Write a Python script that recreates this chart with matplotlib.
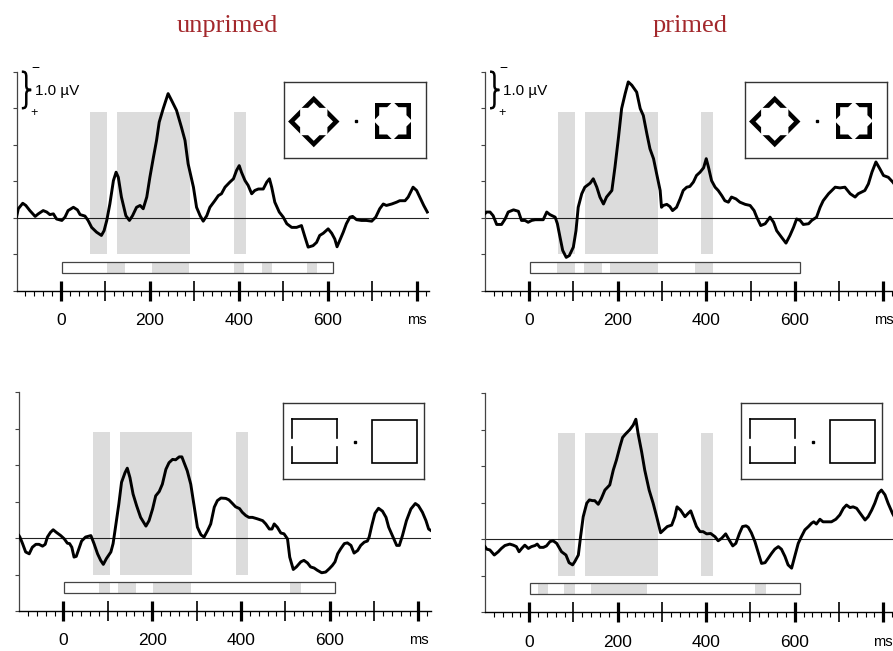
import matplotlib
matplotlib.use("Agg")
import matplotlib.pyplot as plt
import numpy as np
from matplotlib.patches import Rectangle, Polygon, PathPatch
from matplotlib.path import Path

plt.rcParams['font.family'] = 'Liberation Sans'

# ERP traces: time in ms, amplitude in microvolts (negative plotted up)
tl_t = [-100, -96, -86, -79, -70, -58, -51, -40, -32, -25, -17, -10, 2, 9, 16, 28, 37, 43, 54, 61,
        69, 80, 91, 97, 103, 110, 118, 124, 129, 136, 146, 154, 161, 170, 178, 185, 193, 200, 208, 215,
        221, 230, 241, 249, 260, 271, 279, 286, 298, 305, 313, 320, 328, 335, 346, 354, 361, 369, 380, 388,
        395, 401, 406, 414, 421, 429, 436, 444, 455, 463, 469, 474, 481, 491, 500, 508, 519, 530, 541, 549,
        556, 567, 575, 582, 590, 601, 609, 616, 621, 627, 635, 642, 650, 656, 665, 676, 687, 699, 708, 717,
        725, 732, 744, 755, 762, 774, 781, 792, 800, 809, 816, 824]
tl_v = [-0.02, -0.25, -0.40, -0.34, -0.20, -0.04, -0.11, -0.20, -0.16, -0.09, -0.11, 0.03, 0.07, -0.02, -0.20, -0.29, -0.22, -0.09, -0.05, 0.07,
        0.26, 0.39, 0.48, 0.35, 0.07, -0.38, -1.02, -1.25, -1.11, -0.57, -0.06, 0.07, -0.06, -0.29, -0.34, -0.25, -0.57, -1.11, -1.66, -2.12,
        -2.62, -2.99, -3.40, -3.21, -2.94, -2.48, -2.12, -1.48, -0.84, -0.29, -0.06, 0.09, -0.06, -0.29, -0.47, -0.61, -0.66, -0.84, -0.98, -1.07,
        -1.30, -1.43, -1.25, -1.02, -0.89, -0.66, -0.75, -0.79, -0.79, -0.98, -1.07, -0.84, -0.43, -0.16, -0.02, 0.16, 0.26, 0.26, 0.21, 0.53,
        0.80, 0.76, 0.67, 0.48, 0.42, 0.30, 0.42, 0.58, 0.79, 0.62, 0.39, 0.16, -0.02, -0.04, 0.05, 0.07, 0.07, 0.09, -0.02, -0.25,
        -0.38, -0.34, -0.38, -0.43, -0.47, -0.47, -0.57, -0.84, -0.75, -0.52, -0.34, -0.16]

tr_t = [-100, -96, -88, -81, -73, -62, -54, -47, -35, -24, -17, -9, -2, 6, 14, 25, 32, 40, 47, 59,
        64, 70, 76, 84, 91, 100, 106, 111, 119, 126, 138, 145, 153, 160, 168, 175, 187, 194, 202, 209,
        217, 224, 232, 243, 251, 258, 266, 273, 281, 288, 296, 299, 303, 311, 318, 324, 333, 341, 348, 356,
        363, 371, 378, 386, 394, 400, 405, 412, 420, 427, 435, 442, 450, 457, 467, 476, 488, 499, 508, 514,
        523, 533, 544, 552, 559, 570, 580, 589, 597, 604, 612, 619, 631, 638, 649, 657, 664, 676, 691, 702,
        713, 725, 736, 743, 758, 766, 774, 783, 792, 800, 811, 821, 826]
tr_v = [-0.11, -0.16, -0.16, -0.06, 0.18, 0.18, 0.03, -0.16, -0.22, -0.18, 0.07, 0.07, 0.12, 0.07, 0.05, 0.05, 0.05, -0.16, -0.09, -0.02,
        0.16, 0.53, 0.89, 1.08, 1.03, 0.80, 0.35, -0.29, -0.66, -0.84, -0.95, -1.07, -0.84, -0.57, -0.38, -0.57, -0.75, -1.39, -2.21, -2.99,
        -3.40, -3.72, -3.63, -3.44, -2.99, -2.80, -2.30, -1.89, -1.62, -1.21, -0.75, -0.29, -0.34, -0.37, -0.31, -0.20, -0.29, -0.52, -0.75, -0.84,
        -0.86, -0.98, -1.16, -1.25, -1.37, -1.62, -1.39, -1.02, -0.84, -0.75, -0.61, -0.47, -0.43, -0.57, -0.52, -0.43, -0.37, -0.34, -0.20, -0.02,
        0.21, 0.16, -0.02, 0.12, 0.35, 0.53, 0.69, 0.48, 0.26, 0.03, 0.07, 0.18, 0.16, 0.07, -0.02, -0.29, -0.47, -0.66, -0.84, -0.82,
        -0.84, -0.66, -0.57, -0.66, -0.75, -0.93, -1.25, -1.53, -1.34, -1.16, -1.11, -0.98, -0.90]

bl_t = [-100, -98, -92, -85, -77, -70, -62, -55, -47, -41, -36, -29, -23, -16, -6, 2, 9, 14, 19, 24,
        29, 35, 41, 50, 62, 69, 77, 84, 90, 97, 107, 112, 118, 125, 131, 139, 144, 150, 157, 165,
        174, 186, 193, 201, 208, 216, 223, 231, 238, 246, 253, 261, 267, 272, 279, 287, 295, 302, 310, 317,
        325, 332, 340, 347, 355, 366, 373, 381, 388, 397, 403, 411, 418, 426, 437, 449, 456, 464, 470, 475,
        482, 490, 497, 505, 510, 518, 525, 535, 542, 550, 557, 565, 572, 582, 591, 599, 606, 612, 618, 625,
        633, 640, 648, 655, 663, 670, 678, 685, 689, 695, 702, 710, 719, 727, 733, 742, 751, 757, 764, 773,
        783, 793, 800, 809, 817, 823, 828]
bl_v = [-0.07, -0.03, 0.15, 0.38, 0.43, 0.25, 0.17, 0.17, 0.22, 0.17, -0.03, -0.16, -0.23, -0.16, -0.07, 0.02, 0.14, 0.15, 0.25, 0.52,
        0.50, 0.29, 0.08, -0.03, -0.07, 0.15, 0.43, 0.61, 0.72, 0.56, 0.38, 0.15, -0.35, -0.94, -1.53, -1.80, -1.92, -1.66, -1.21, -0.89,
        -0.57, -0.33, -0.48, -0.80, -1.16, -1.28, -1.48, -1.89, -2.07, -2.16, -2.15, -2.23, -2.23, -2.07, -1.85, -1.48, -0.85, -0.30, -0.09, -0.03,
        -0.21, -0.39, -0.85, -1.03, -1.10, -1.09, -1.05, -0.95, -0.86, -0.81, -0.71, -0.62, -0.57, -0.57, -0.53, -0.48, -0.39, -0.25, -0.25, -0.39,
        -0.30, -0.14, -0.12, 0.02, 0.52, 0.86, 0.79, 0.65, 0.61, 0.68, 0.79, 0.82, 0.88, 0.95, 0.93, 0.84, 0.75, 0.65, 0.43, 0.29,
        0.15, 0.13, 0.20, 0.41, 0.34, 0.20, 0.11, 0.08, -0.03, -0.35, -0.68, -0.82, -0.74, -0.57, -0.30, -0.05, 0.20, 0.20, -0.07, -0.48,
        -0.80, -0.95, -0.89, -0.71, -0.48, -0.25, -0.21]

br_t = [-100, -96, -89, -79, -70, -63, -55, -44, -36, -29, -23, -17, -10, -2, 5, 13, 18, 24, 32, 39,
        47, 54, 62, 73, 83, 90, 98, 103, 111, 116, 122, 130, 136, 143, 148, 156, 163, 171, 182, 190,
        197, 205, 211, 218, 227, 235, 241, 246, 254, 261, 271, 280, 288, 297, 304, 312, 322, 329, 334, 342,
        352, 359, 365, 371, 378, 386, 393, 401, 410, 420, 427, 435, 444, 452, 460, 467, 475, 482, 490, 495,
        502, 510, 518, 525, 533, 540, 548, 555, 563, 570, 578, 585, 593, 600, 608, 615, 623, 631, 638, 643,
        649, 657, 664, 672, 683, 693, 702, 710, 717, 725, 732, 740, 747, 759, 766, 774, 781, 789, 796, 804,
        811, 821, 826]
br_v = [0.20, 0.27, 0.29, 0.43, 0.34, 0.25, 0.17, 0.13, 0.16, 0.20, 0.34, 0.25, 0.16, 0.25, 0.20, 0.17, 0.13, 0.22, 0.22, 0.18,
        0.06, 0.04, 0.11, 0.34, 0.43, 0.64, 0.70, 0.61, 0.43, -0.07, -0.62, -0.99, -1.08, -1.06, -1.06, -0.96, -1.12, -1.35, -1.49, -1.90,
        -2.17, -2.54, -2.79, -2.89, -3.00, -3.13, -3.29, -2.90, -2.40, -1.90, -1.35, -0.99, -0.62, -0.18, -0.26, -0.35, -0.39, -0.62, -0.89, -0.80,
        -0.62, -0.71, -0.78, -0.58, -0.35, -0.21, -0.21, -0.15, -0.16, -0.07, 0.04, -0.03, -0.15, 0.02, 0.18, 0.11, -0.16, -0.35, -0.37, -0.33,
        -0.18, 0.06, 0.38, 0.66, 0.64, 0.52, 0.38, 0.27, 0.20, 0.27, 0.47, 0.70, 0.79, 0.47, 0.11, -0.07, -0.26, -0.35, -0.44, -0.48,
        -0.42, -0.55, -0.48, -0.48, -0.48, -0.55, -0.67, -0.85, -0.94, -0.87, -0.89, -0.85, -0.73, -0.53, -0.62, -0.80, -0.99, -1.26, -1.35, -1.22,
        -0.99, -0.71, -0.60]

# analysis windows (grey columns) and significant 20 ms bins (grey cells in the strip)
windows = [(66, 104), (127, 290), (389, 416)]
strip_span = (2, 612)
tl_sig = [(104, 143), (204, 288), (389, 412), (453, 475), (553, 576)]
tr_sig = [(64, 104), (123, 164), (183, 292), (375, 415)]
bl_sig = [(80, 105), (122, 163), (203, 287), (511, 535)]
br_sig = [(19, 43), (78, 103), (139, 267), (510, 534)]

titles = ['unprimed', 'primed']
xtick_vals = list(range(0, 801, 100))
xtick_labels = ['0', '', '200', '', '400', '', '600', '', 'ms']

SHADE = '#dcdcdc'


def draw_panel(ax, t, v, sig, scale_bar=False):
    for a, b in windows:
        ax.add_patch(Rectangle((a, -2.9), b - a, 3.9, facecolor=SHADE, edgecolor='none', zorder=0))
    ax.axhline(0, color='#222222', lw=0.8, zorder=1)
    s0, s1 = strip_span
    ax.add_patch(Rectangle((s0, 1.2), s1 - s0, 0.3, facecolor='white', edgecolor='none', zorder=1))
    for a, b in sig:
        ax.add_patch(Rectangle((a, 1.2), b - a, 0.3, facecolor=SHADE, edgecolor='none', zorder=1.5))
    ax.add_patch(Rectangle((s0, 1.2), s1 - s0, 0.3, facecolor='none', edgecolor='#444444', lw=0.9, zorder=2))
    ax.plot(t, v, color='black', lw=2.1, zorder=3, solid_joinstyle='round')

    ax.set_xlim(-100, 828)
    ax.set_ylim(2, -4)
    for s in ['top', 'right']:
        ax.spines[s].set_visible(False)
    ax.spines['left'].set_color('#444444')
    ax.spines['left'].set_linewidth(0.9)
    ax.spines['bottom'].set_linewidth(1.0)

    ax.set_yticks(range(-4, 3))
    ax.set_yticklabels([])
    ax.tick_params(axis='y', direction='out', length=3, width=0.8, color='#444444')
    ax.set_xticks(xtick_vals)
    ax.set_xticklabels(xtick_labels, fontsize=12.5)
    ax.set_xticks(range(-80, 821, 20), minor=True)
    ax.tick_params(axis='x', which='major', direction='inout', length=14, width=1.2, pad=9)
    ax.tick_params(axis='x', which='minor', direction='out', length=3.6, width=0.8)
    for tk, val in zip(ax.xaxis.get_major_ticks(), xtick_vals):
        if val % 200 == 0:
            tk.tick1line.set_markeredgewidth(2.3)
    ax.get_xticklabels()[-1].set_fontsize(10.5)

    if scale_bar:
        x0, xm, x1 = -88, -78, -67
        verts = [(x0, -4.0), (xm - 2, -4.0), (xm, -3.97), (xm, -3.85),
                 (xm, -3.62),
                 (xm, -3.53), (xm + 3, -3.5), (x1, -3.5),
                 (xm + 3, -3.5), (xm, -3.47), (xm, -3.38),
                 (xm, -3.15),
                 (xm, -3.03), (xm - 2, -3.0), (x0, -3.0)]
        codes = [Path.MOVETO, Path.CURVE4, Path.CURVE4, Path.CURVE4,
                 Path.LINETO,
                 Path.CURVE4, Path.CURVE4, Path.CURVE4,
                 Path.CURVE4, Path.CURVE4, Path.CURVE4,
                 Path.LINETO,
                 Path.CURVE4, Path.CURVE4, Path.CURVE4]
        ax.add_patch(PathPatch(Path(verts, codes), facecolor='none', edgecolor='black', lw=1.8,
                               clip_on=False, zorder=4))
        ax.text(-58, -3.48, '1.0 µV', fontsize=11, ha='left', va='center')
        ax.text(-57, -4.09, '\u2212', fontsize=10, ha='center', va='center', clip_on=False)
        ax.text(-61, -2.88, '+', fontsize=9, ha='center', va='center')


def star_points(cx, cy, rot, R=19.3, r=14.8):
    pts = []
    for k in range(16):
        ang = np.deg2rad(k * 22.5 + rot)
        rad = R if k % 2 == 0 else r
        pts.append((cx + rad * np.cos(ang), cy + rad * np.sin(ang)))
    return pts


def square_points(cx, cy, h, rot):
    pts = []
    for k in range(4):
        ang = np.deg2rad(45 + 90 * k + rot)
        pts.append((cx + h * np.sqrt(2) * np.cos(ang), cy + h * np.sqrt(2) * np.sin(ang)))
    return pts


def draw_inset(rect, kind):
    ia = fig.add_axes(rect)
    ia.set_xlim(0, 142)
    ia.set_ylim(76, 0)
    ia.set_xticks([])
    ia.set_yticks([])
    for s in ia.spines.values():
        s.set_color('#333333')
        s.set_linewidth(1.0)
    if kind == 'star':
        for cx, cy, rot in [(29.5, 39.2, 45), (108.7, 38.5, 0)]:
            ia.add_patch(Polygon(square_points(cx, cy, 18.2, rot), closed=True, facecolor='black', edgecolor='none'))
            ia.add_patch(Polygon(star_points(cx, cy, rot), closed=True, facecolor='white', edgecolor='none'))
        ia.plot([72], [38.7], marker='s', color='black', markersize=1.6)
    else:
        lw = 1.2
        l, r, t, b = 9.3, 54.3, 15.7, 60
        ia.plot([l, r], [t, t], color='black', lw=lw)
        ia.plot([l, r], [b, b], color='black', lw=lw)
        for x in (l, r):
            ia.plot([x, x], [t, 34.3], color='black', lw=lw)
            ia.plot([x, x], [43.3, b], color='black', lw=lw)
        ia.add_patch(Rectangle((89.3, 16.7), 45, 43.3, facecolor='none', edgecolor='black', lw=lw))
        ia.plot([72.7], [38.3], marker='s', color='black', markersize=1.6)


fig = plt.figure(figsize=(8.93, 6.51), dpi=100)

ax_tl = fig.add_axes([0.01848, 0.5530, 0.4620, 0.3369])
ax_tr = fig.add_axes([0.5428, 0.5530, 0.4604, 0.3369])
ax_bl = fig.add_axes([0.02128, 0.0614, 0.4612, 0.3359])
ax_br = fig.add_axes([0.5431, 0.0594, 0.4598, 0.3364])

draw_panel(ax_tl, tl_t, tl_v, tl_sig, scale_bar=True)
draw_panel(ax_tr, tr_t, tr_v, tr_sig, scale_bar=True)
draw_panel(ax_bl, bl_t, bl_v, bl_sig)
draw_panel(ax_br, br_t, br_v, br_sig)

draw_inset([0.3184, 0.7568, 0.1587, 0.1167], 'star')
draw_inset([0.8346, 0.7568, 0.1587, 0.1167], 'star')
draw_inset([0.3166, 0.2637, 0.1587, 0.1167], 'square')
draw_inset([0.8294, 0.2637, 0.1587, 0.1167], 'square')

for x, label in zip([227 / 893, 690 / 893], titles):
    fig.text(x, 1 - 26 / 651, label, ha='center', va='center', family='Liberation Serif',
             fontsize=19, color='#a3282c')

fig.savefig('out.png', dpi=100)
